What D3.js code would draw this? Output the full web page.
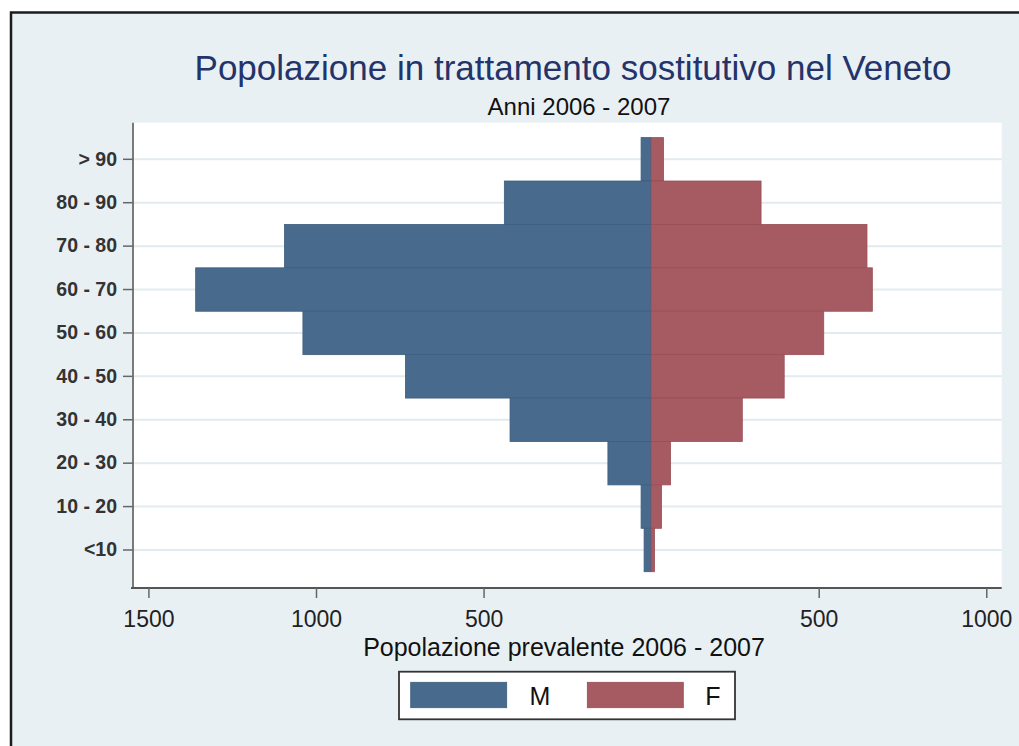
<!DOCTYPE html>
<html><head><meta charset="utf-8">
<script src="https://cdn.jsdelivr.net/npm/d3@7"></script>
<style>body{margin:0;background:#fff}svg{display:block}</style>
</head><body><svg id="c" width="1019" height="746"></svg>
<script>
const categories = ["> 90","80 - 90","70 - 80","60 - 70","50 - 60","40 - 50","30 - 40","20 - 30","10 - 20","<10"];
const maleValues = [30,438,1094,1359,1039,733,421,129,30,21];
const femaleValues = [37,328,644,660,515,397,272,58,31,10];
const xTickValues = [-1500,-1000,-500,500,1000];
const xTickLabels = ["1500","1000","500","500","1000"];
const seriesNames = ["M","F"];
const titleText = "Popolazione in trattamento sostitutivo nel Veneto";
const subtitleText = "Anni 2006 - 2007";
const xTitleText = "Popolazione prevalente 2006 - 2007";

const colM = "#486b8d", colF = "#a65b62";
const strokeM = "#3d5d7e", strokeF = "#984e56";
const font = "'Liberation Sans', Arial, sans-serif";

const svg = d3.select("#c");
// outer frame
svg.append("rect").attr("x",11).attr("y",12.5).attr("width",1040).attr("height",760)
  .attr("fill","#e9f0f3").attr("stroke","#1c1c1c").attr("stroke-width",2.5);

const pLeft = 133, pRight = 1001.7, pTop = 122.7, pBottom = 588;
const x = d3.scaleLinear().domain([-1546,1046]).range([pLeft,pRight]);
const y = d3.scaleBand().domain(categories).range([137.6,571.7]).padding(0);

// plot region
svg.append("rect").attr("x",pLeft).attr("y",pTop).attr("width",pRight-pLeft).attr("height",pBottom-pTop).attr("fill","#fff");

// gridlines
svg.append("g").selectAll("line").data(categories).join("line")
  .attr("x1",pLeft).attr("x2",pRight)
  .attr("y1",d=>y(d)+y.bandwidth()/2).attr("y2",d=>y(d)+y.bandwidth()/2)
  .attr("stroke","#e2ebef").attr("stroke-width",2);

// bars
const gb = svg.append("g");
gb.selectAll("rect.m").data(categories).join("rect").attr("class","m")
  .attr("x",(d,i)=>x(-maleValues[i])).attr("width",(d,i)=>x(0)-x(-maleValues[i]))
  .attr("y",d=>y(d)).attr("height",y.bandwidth())
  .attr("fill",colM).attr("stroke",strokeM).attr("stroke-width",0.8);
gb.selectAll("rect.f").data(categories).join("rect").attr("class","f")
  .attr("x",x(0)).attr("width",(d,i)=>x(femaleValues[i])-x(0))
  .attr("y",d=>y(d)).attr("height",y.bandwidth())
  .attr("fill",colF).attr("stroke",strokeF).attr("stroke-width",0.8);

// y axis
const ya = svg.append("g").attr("transform",`translate(${pLeft},0)`)
  .call(d3.axisLeft(y).tickSize(10).tickPadding(6).tickSizeOuter(0));
ya.select(".domain").attr("d",`M0,${pTop}V${pBottom}`).attr("stroke","#7a7a7a").attr("stroke-width",2);
ya.selectAll(".tick line").attr("stroke","#666").attr("stroke-width",1.5);
ya.selectAll(".tick text").attr("font-family",font).attr("font-size",19.5).attr("font-weight","bold").attr("fill","#333");

// x axis
const xa = svg.append("g").attr("transform",`translate(0,${pBottom})`)
  .call(d3.axisBottom(x).tickValues(xTickValues).tickFormat((d,i)=>xTickLabels[i]).tickSize(10).tickSizeOuter(0));
xa.select(".domain").attr("d",`M${pLeft-2},0H${pRight}`).attr("stroke","#555").attr("stroke-width",2.2);
xa.selectAll(".tick line").attr("stroke","#666").attr("stroke-width",1.5);
xa.selectAll(".tick text").attr("font-family",font).attr("font-size",23).attr("fill","#222")
  .attr("y",38.7).attr("dy",0);

// titles
svg.append("text").attr("x",573).attr("y",80).attr("text-anchor","middle")
  .attr("font-family",font).attr("font-size",35).attr("fill","#24336a").text(titleText);
svg.append("text").attr("x",579).attr("y",115).attr("text-anchor","middle")
  .attr("font-family",font).attr("font-size",24).attr("fill","#111").text(subtitleText);
svg.append("text").attr("x",564).attr("y",656).attr("text-anchor","middle")
  .attr("font-family",font).attr("font-size",25).attr("fill","#111").text(xTitleText);

// legend
const lg = svg.append("g");
lg.append("rect").attr("x",399).attr("y",671.7).attr("width",336).attr("height",47.6)
  .attr("fill","#fff").attr("stroke","#333").attr("stroke-width",1.8);
const legItems = [
  {name:seriesNames[0], fill:colM, stroke:strokeM, sx:410.7, tx:540},
  {name:seriesNames[1], fill:colF, stroke:strokeF, sx:587.3, tx:713}
];
legItems.forEach(it=>{
  lg.append("rect").attr("x",it.sx).attr("y",682.3).attr("width",96).attr("height",25.4)
    .attr("fill",it.fill).attr("stroke",it.stroke).attr("stroke-width",0.8);
  lg.append("text").attr("x",it.tx).attr("y",705).attr("text-anchor","middle")
    .attr("font-family",font).attr("font-size",25).attr("fill","#111").text(it.name);
});
</script></body></html>
